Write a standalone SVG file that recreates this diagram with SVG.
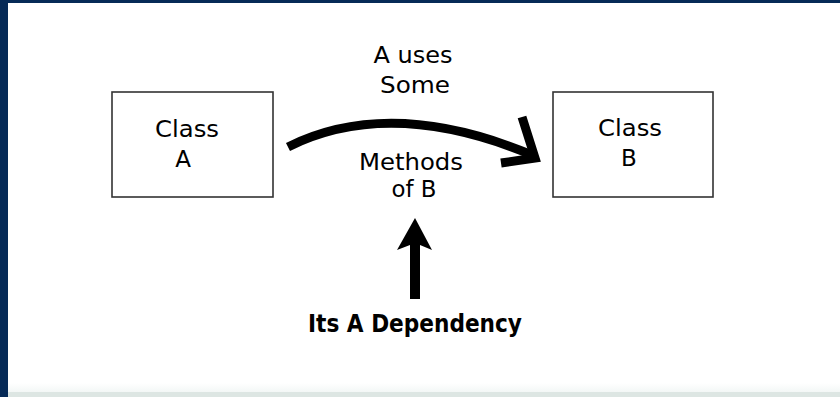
<svg xmlns="http://www.w3.org/2000/svg" width="840" height="397" viewBox="0 0 840 397">
<defs>
<style>
.box{fill:#fff;stroke:#333;stroke-width:1.6}
.lbl{font-family:"DejaVu Sans","Liberation Sans",sans-serif;font-size:23px;fill:#000;text-anchor:middle}
.bold{font-weight:bold;font-size:24px}
.conn{fill:none;stroke:#000;stroke-width:9}
</style>
<linearGradient id="fade" x1="0" y1="0" x2="0" y2="1">
<stop offset="0" stop-color="#ffffff"/>
<stop offset="1" stop-color="#f3f7f6"/>
</linearGradient>
</defs>
<rect x="0" y="0" width="840" height="397" fill="#fff"/>
<rect x="8" y="383" width="832" height="9" fill="url(#fade)"/>
<rect x="8" y="392" width="832" height="5" fill="#dde6e3"/>
<rect x="0" y="0" width="840" height="3" fill="#062a57"/>
<rect x="0" y="0" width="8" height="397" fill="#062a57"/>

<g id="classA">
<rect class="box" x="112" y="92" width="161" height="105"/>
<text class="lbl" x="187" y="137" textLength="64" lengthAdjust="spacingAndGlyphs">Class</text>
<text class="lbl" x="183" y="167">A</text>
</g>
<g id="classB">
<rect class="box" x="553" y="92" width="160" height="105"/>
<text class="lbl" x="630" y="136" textLength="64" lengthAdjust="spacingAndGlyphs">Class</text>
<text class="lbl" x="629" y="166">B</text>
</g>
<g id="labels">
<text class="lbl" x="413" y="63" textLength="79" lengthAdjust="spacingAndGlyphs">A uses</text>
<text class="lbl" x="415" y="93" textLength="70" lengthAdjust="spacingAndGlyphs">Some</text>
<text class="lbl" x="411" y="170" textLength="104" lengthAdjust="spacingAndGlyphs">Methods</text>
<text class="lbl" x="414" y="197" textLength="45" lengthAdjust="spacingAndGlyphs">of B</text>
<text class="lbl bold" x="415" y="332" textLength="214" lengthAdjust="spacingAndGlyphs">Its A Dependency</text>
</g>
<g id="connectors">
<path class="conn" d="M288,147 Q390,96 532,155"/>
<polyline class="conn" points="522,117 535,158 501,163" stroke-linejoin="miter" stroke-miterlimit="10"/>
<polygon points="415,218 432,250 420,245 420,299 410,299 410,245 397,250" fill="#000"/>
</g>
</svg>
